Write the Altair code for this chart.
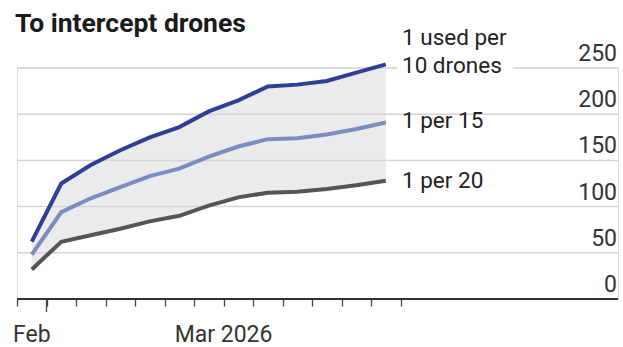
import altair as alt
import pandas as pd

# Days since 28 Feb 2026 (data points plotted at mid-day)
days = [0.5, 1.5, 2.5, 3.5, 4.5, 5.5, 6.5, 7.5, 8.5, 9.5, 10.5, 11.5, 12.5]
per10 = [62, 125, 145, 161, 175, 186, 203, 215, 230, 232, 236, 245, 254]
per15 = [48, 94, 109, 121, 133, 141, 154, 165, 173, 174, 178, 184, 191]
per20 = [32, 62, 69, 76, 84, 90, 101, 110, 115, 116, 119, 123, 128]

y_ticks = [0, 50, 100, 150, 200, 250]
x_ticks = list(range(14))
month_labels = ["Feb", "Mar 2026"]
month_pos = [0.5, 7]
series_text = ["1 used per", "10 drones", "1 per 15", "1 per 20"]
series_text_y = [275, 244.6, 185, 120]

TITLE = "To intercept drones"
FONT = "Roboto"
W, H = 601, 231
XDOM = [0, 20.37]

df = pd.DataFrame({"day": days, "p10": per10, "p15": per15, "p20": per20})

xs = alt.Scale(domain=XDOM, nice=False, zero=False)
ys = alt.Scale(domain=[0, 250], nice=False)

base = alt.Chart(df)

area = base.mark_area(color="#ebebeb").encode(
    x=alt.X("day:Q", scale=xs, axis=alt.Axis(values=x_ticks, tickSize=7, tickWidth=1.3,
                                              tickColor="#444", labels=False, domain=False,
                                              grid=False, title=None)),
    y=alt.Y("p20:Q", scale=ys, axis=None),
    y2="p10:Q",
)

grid_df = pd.DataFrame({"v": [v for v in y_ticks if v > 0]})
grid = alt.Chart(grid_df).mark_rule(color="#d5d5d5", strokeWidth=1.5).encode(
    y=alt.Y("v:Q", scale=ys), x=alt.value(0), x2=alt.value(W)
)

gap = alt.Chart(pd.DataFrame({"a": [12.88], "b": [16.8], "v": [250]})).mark_rule(
    color="white", strokeWidth=4
).encode(x=alt.X("a:Q", scale=xs), x2="b:Q", y=alt.Y("v:Q", scale=ys))

baseline = alt.Chart(pd.DataFrame({"v": [0]})).mark_rule(color="#333", strokeWidth=2).encode(
    y=alt.Y("v:Q", scale=ys), x=alt.value(0), x2=alt.value(W)
)

longtick = alt.Chart(pd.DataFrame({"d": [1]})).mark_rule(color="#444", strokeWidth=1.3).encode(
    x=alt.X("d:Q", scale=xs), y=alt.value(H), y2=alt.value(H + 13)
)

def line(field, color):
    return base.mark_line(color=color, strokeWidth=4).encode(
        x=alt.X("day:Q", scale=xs), y=alt.Y(f"{field}:Q", scale=ys)
    )

l20 = line("p20", "#555555")
l15 = line("p15", "#7b8cc0")
l10 = line("p10", "#2f3f94")

ylab = alt.Chart(pd.DataFrame({"v": y_ticks})).mark_text(
    align="right", baseline="alphabetic", dy=-7, font=FONT, fontSize=23, color="#333"
).encode(y=alt.Y("v:Q", scale=ys), x=alt.value(W - 1), text=alt.Text("v:Q"))

xlab = alt.Chart(pd.DataFrame({"d": month_pos, "t": month_labels})).mark_text(
    align="center", baseline="alphabetic", font=FONT, fontSize=23, color="#333"
).encode(x=alt.X("d:Q", scale=xs), y=alt.value(H + 43), text="t:N")

slab = alt.Chart(pd.DataFrame({"t": series_text, "v": series_text_y})).mark_text(
    align="left", baseline="alphabetic", font=FONT, fontSize=22.5, color="#222"
).encode(x=alt.value(385), y=alt.Y("v:Q", scale=ys), text="t:N")

title = alt.Chart(pd.DataFrame({"t": [TITLE]})).mark_text(
    align="left", baseline="alphabetic", font=FONT, fontSize=26.5, fontWeight="bold", color="#1a1a1a"
).encode(x=alt.value(-2), y=alt.value(-36), text="t:N")

chart = alt.layer(area, grid, gap, baseline, longtick, l20, l15, l10, ylab, xlab, slab, title).properties(
    width=W, height=H,
    padding={"left": 17, "top": 68, "right": 5, "bottom": 48},
    autosize=alt.AutoSizeParams(type="none"),
).configure_view(stroke=None).configure(background="white")

chart.save("out.html", embed_options={"renderer": "svg", "actions": False})
